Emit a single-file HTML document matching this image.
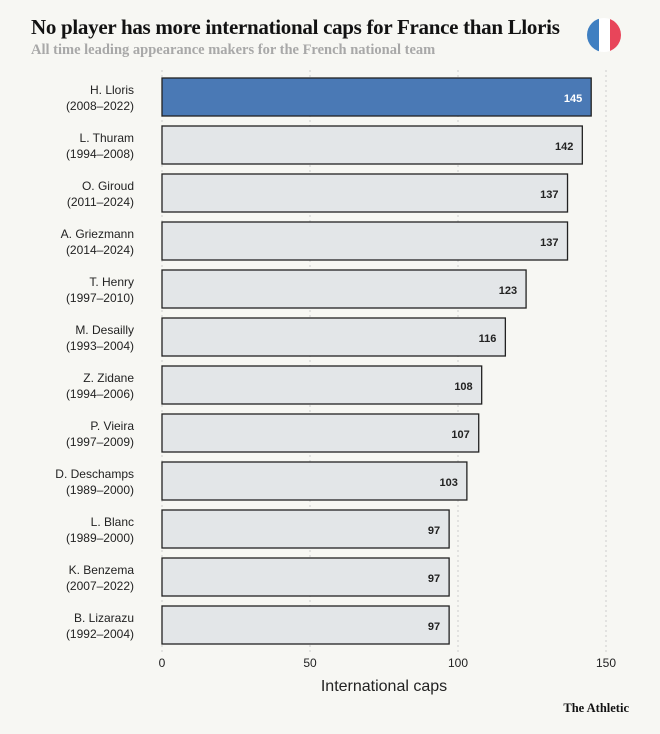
<!DOCTYPE html>
<html><head><style>
body{margin:0;width:660px;height:734px;background:#f7f7f3;font-family:"Liberation Sans",sans-serif;position:relative;overflow:hidden}
.t{position:absolute;left:31px;top:15px;font-family:"Liberation Serif",serif;font-weight:bold;font-size:21px;color:#121212;letter-spacing:-0.3px}
.s{position:absolute;left:31px;top:42px;font-family:"Liberation Serif",serif;font-weight:bold;font-size:14.5px;color:#a8a8a8}
</style></head><body>
<div class="t">No player has more international caps for France than Lloris</div>
<div class="s">All time leading appearance makers for the French national team</div>
<svg width="660" height="734" style="position:absolute;left:0;top:0">
<defs><clipPath id="c"><circle cx="604" cy="35" r="17"/></clipPath></defs>
<g clip-path="url(#c)"><rect x="587" y="18" width="12" height="34" fill="#3f7fc1"/><rect x="599" y="18" width="11" height="34" fill="#fff"/><rect x="610" y="18" width="11" height="34" fill="#e8455a"/></g>
<g stroke="#ccc" stroke-dasharray="2,3" stroke-width="1">
<line x1="162" y1="70" x2="162" y2="652"/><line x1="310" y1="70" x2="310" y2="652"/><line x1="458" y1="70" x2="458" y2="652"/><line x1="606" y1="70" x2="606" y2="652"/>
</g>
<g font-size="12" fill="#222" text-anchor="end" id="bars"></g>
<g font-size="12" fill="#222" text-anchor="middle">
<text x="162" y="667">0</text><text x="310" y="667">50</text><text x="458" y="667">100</text><text x="606" y="667">150</text>
<text x="384" y="691" font-size="16">International caps</text>
</g>
<text x="629" y="712" text-anchor="end" font-family="Liberation Serif,serif" font-weight="bold" font-size="12.5" fill="#121212">The Athletic</text>
</svg>
<script>
const d=[["H. Lloris","2008–2022",145],["L. Thuram","1994–2008",142],["O. Giroud","2011–2024",137],["A. Griezmann","2014–2024",137],["T. Henry","1997–2010",123],["M. Desailly","1993–2004",116],["Z. Zidane","1994–2006",108],["P. Vieira","1997–2009",107],["D. Deschamps","1989–2000",103],["L. Blanc","1989–2000",97],["K. Benzema","2007–2022",97],["B. Lizarazu","1992–2004",97]];
let h="";d.forEach((r,i)=>{const y=78+48*i,w=r[2]*2.96;const f=i?"#e3e6e8":"#4a79b5";
h+=`<rect x="162" y="${y}" width="${w}" height="38" fill="${f}" stroke="#222" stroke-width="1.3"/>`;
h+=`<text x="${162+w-9}" y="${y+24}" font-weight="bold" font-size="11" fill="${i?'#222':'#fff'}">${r[2]}</text>`;
h+=`<text x="134" y="${y+16}">${r[0]}</text><text x="134" y="${y+32}">(${r[1]})</text>`;});
document.getElementById("bars").innerHTML=h;
</script>
</body></html>
